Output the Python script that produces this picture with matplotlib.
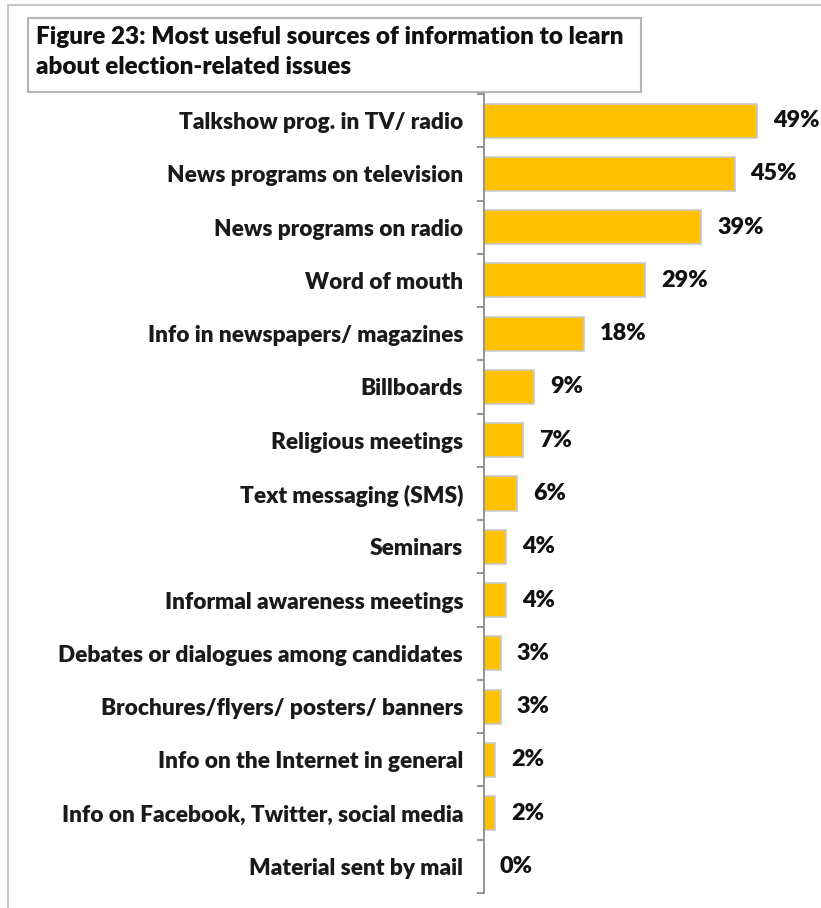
import matplotlib
matplotlib.use("Agg")
import matplotlib.pyplot as plt
from matplotlib.patches import Rectangle

categories = [
    "Talkshow prog. in TV/ radio",
    "News programs on television",
    "News programs on radio",
    "Word of mouth",
    "Info in newspapers/ magazines",
    "Billboards",
    "Religious meetings",
    "Text messaging (SMS)",
    "Seminars",
    "Informal awareness meetings",
    "Debates or dialogues among candidates",
    "Brochures/flyers/ posters/ banners",
    "Info on the Internet in general",
    "Info on Facebook, Twitter, social media",
    "Material sent by mail",
]
values = [49, 45, 39, 29, 18, 9, 7, 6, 4, 4, 3, 3, 2, 2, 0]
title = "Figure 23: Most useful sources of information to learn\nabout election-related issues"

plt.rcParams["font.family"] = ["Lato", "DejaVu Sans"]

W, H = 821, 908
fig = plt.figure(figsize=(W / 100, H / 100), dpi=100)

# outer frame
fig.add_artist(Rectangle((8 / W, -0.1), 1.2, (H - 5) / H + 0.1, transform=fig.transFigure,
                         fill=False, edgecolor="#c8c8c8", linewidth=1.5))

ax = fig.add_axes([484 / W, 1 - 893 / H, 334 / W, (893 - 94) / H])
pos = list(range(len(categories)))
ax.barh(pos, values, height=0.64, color="#FFC000", edgecolor="#c9c9c9", linewidth=1.2)
ax.set_xlim(0, 60)
ax.set_ylim(len(categories) - 0.5, -0.5)

for s in ["top", "right", "bottom"]:
    ax.spines[s].set_visible(False)
ax.spines["left"].set_color("#8c8c8c")
ax.spines["left"].set_linewidth(1.3)
ax.set_xticks([])

# boundary ticks (major) and category labels (minor)
ax.set_yticks([p - 0.5 for p in pos] + [len(pos) - 0.5])
ax.set_yticklabels([])
ax.tick_params(axis="y", which="major", length=5, color="#8c8c8c", width=1.3)
ax.set_yticks(pos, minor=True)
ax.set_yticklabels(categories, minor=True, fontsize=16.3, fontweight="heavy", color="#1a1a1a")
ax.tick_params(axis="y", which="minor", length=0, pad=15)

for p, v in zip(pos, values):
    ax.annotate(f"{v}%", (v, p), xytext=(11.5, 0), textcoords="offset points",
                ha="left", va="center", fontsize=16.8, fontweight="heavy", color="#111111")

# title box
fig.add_artist(Rectangle((28 / W, 1 - 92 / H), (641 - 28) / W, (92 - 18) / H,
                         transform=fig.transFigure, facecolor="white",
                         edgecolor="#b4b4b4", linewidth=1.5, zorder=5))
fig.text(36 / W, 1 - 52 / H, title, ha="left", va="center", fontsize=17.5,
         fontweight="heavy", color="#111111", linespacing=1.5, zorder=6)

fig.savefig("out.png", dpi=100)
